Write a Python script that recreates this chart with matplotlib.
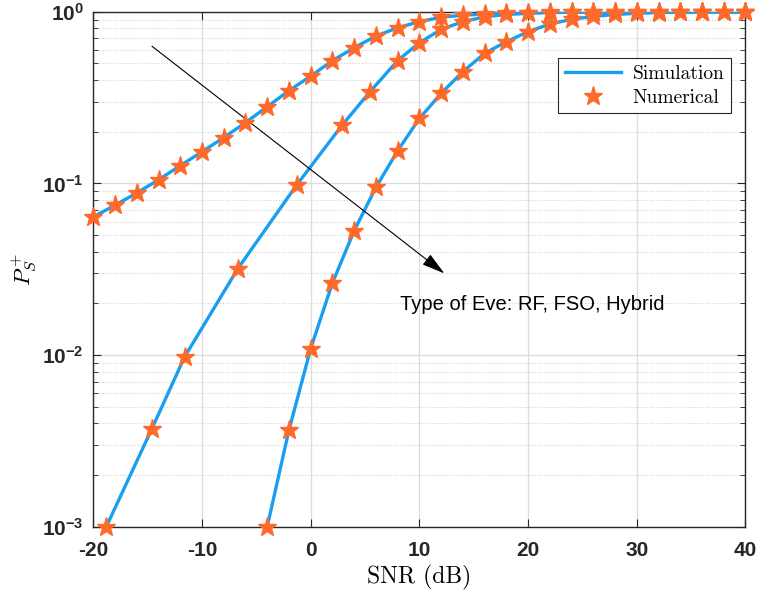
import numpy as np
import matplotlib
matplotlib.use("Agg")
import matplotlib.pyplot as plt
from matplotlib.lines import Line2D
from matplotlib.ticker import FixedLocator, LogLocator, FuncFormatter, NullFormatter

plt.rcParams['font.family'] = 'Liberation Sans'
plt.rcParams['axes.unicode_minus'] = False
plt.rcParams['mathtext.fontset'] = 'custom'
plt.rcParams['mathtext.rm'] = 'Liberation Sans:bold'
plt.rcParams['mathtext.bf'] = 'Liberation Sans:bold'
plt.rcParams['mathtext.it'] = 'Liberation Sans:bold'

# eavesdropper type RF
snr_rf = [-20, -18, -16, -14, -12, -10, -8, -6, -4, -2, 0, 2, 4, 6, 8, 10, 12, 14,
          16, 18, 20, 22, 24, 26, 28, 30, 32, 34, 36, 38, 40]
ps_rf = [0.0638, 0.0747, 0.088, 0.105, 0.127, 0.153, 0.185, 0.226, 0.28, 0.347,
         0.422, 0.519, 0.618, 0.722, 0.808, 0.876, 0.93, 0.955, 0.972, 0.983,
         0.99, 0.994, 0.996, 0.998, 0.999, 1.0, 1.0, 1.0, 1.0, 1.0, 1.0]

# eavesdropper type FSO
snr_fso = [-18.8, -14.6, -11.6, -6.7, -1.3, 2.9, 5.45, 8.0, 10, 12, 14, 16, 18,
           20, 22, 24, 26, 28, 30, 32, 34, 36, 38, 40]
ps_fso = [0.001, 0.00373, 0.00975, 0.0319, 0.0977, 0.219, 0.342, 0.52, 0.66,
          0.79, 0.876, 0.935, 0.965, 0.98, 0.99, 0.995, 0.997, 0.999, 1.0, 1.0,
          1.0, 1.0, 1.0, 1.0]

# eavesdropper type Hybrid
snr_hyb = [-4, -2, 0, 2, 4, 6, 8, 10, 12, 14, 16, 18, 20, 22, 24, 26, 28, 30, 32,
           34, 36, 38, 40]
ps_hyb = [0.001, 0.00365, 0.0109, 0.0263, 0.053, 0.0948, 0.155, 0.239, 0.335,
          0.448, 0.573, 0.67, 0.766, 0.849, 0.904, 0.94, 0.965, 0.98, 0.99,
          0.995, 0.998, 0.999, 1.0]

blue = '#1a9ff0'
orange = '#ff6a2b'

fig = plt.figure(figsize=(7.59, 5.97), dpi=100)
ax = fig.add_axes([0.1229, 0.1178, 0.8593, 0.8624])

for x, y in [(snr_rf, ps_rf), (snr_fso, ps_fso), (snr_hyb, ps_hyb)]:
    ax.plot(x, y, color=blue, lw=2.4, zorder=3)
    ax.plot(x, y, ls='none', marker='*', ms=14, color=orange, mec=orange, zorder=4,
            clip_on=False)

ax.set_yscale('log')
ax.set_xlim(-20, 40)
ax.set_ylim(1e-3, 1)
ax.xaxis.set_major_locator(FixedLocator([-20, -10, 0, 10, 20, 30, 40]))
ax.yaxis.set_major_locator(FixedLocator([1e-3, 1e-2, 1e-1, 1]))
ax.yaxis.set_minor_locator(LogLocator(base=10, subs=np.arange(2, 10)))
ax.yaxis.set_minor_formatter(NullFormatter())
ax.yaxis.set_major_formatter(FuncFormatter(lambda v, p: r'$\mathbf{10^{%d}}$' % round(np.log10(v))))
ax.xaxis.set_major_formatter(FuncFormatter(lambda v, p: '%d' % v))

ax.tick_params(which='both', direction='in', top=True, right=True, colors='#262626')
ax.tick_params(which='major', length=6, labelsize=15)
ax.tick_params(which='minor', length=3.5)
ax.tick_params(axis='x', which='major', pad=10)
ax.tick_params(axis='y', which='major', pad=7)
for lab in ax.get_xticklabels():
    lab.set_fontweight('bold')
for s in ax.spines.values():
    s.set_color('#262626')
    s.set_linewidth(1.0)

ax.grid(True, which='major', color='#dcdcdc', lw=0.9)
ax.grid(True, which='minor', axis='y', color='#d0d0d0', ls=':', lw=0.8)
ax.set_axisbelow(True)

ax.set_xlabel('SNR (dB)', fontfamily='cmr10', fontsize=17, labelpad=4)
ax.set_ylabel(r'$P_S^+$', math_fontfamily='cm', fontsize=16.5, labelpad=3)

ax.annotate('', xy=(12.3, 0.0299), xytext=(-14.6, 0.63),
            arrowprops=dict(arrowstyle='-|>,head_length=0.65,head_width=0.18',
                            color='black', lw=0.8, mutation_scale=22,
                            shrinkA=0, shrinkB=0))
ax.text(8.2, 0.0198, 'Type of Eve: RF, FSO, Hybrid', fontsize=14.5, va='center', ha='left')

handles = [Line2D([], [], color=blue, lw=2.4),
           Line2D([], [], ls='none', marker='*', ms=14, color=orange)]
leg = ax.legend(handles, ['Simulation', 'Numerical'], loc='upper right',
                bbox_to_anchor=(0.978, 0.91), borderaxespad=0, fancybox=False,
                edgecolor='#262626', framealpha=1, prop={'family': 'cmr10', 'size': 14},
                handlelength=2.9, handletextpad=0.6, borderpad=0.35, labelspacing=0.3)
leg.get_frame().set_linewidth(0.8)

fig.savefig('out.png', dpi=100)
